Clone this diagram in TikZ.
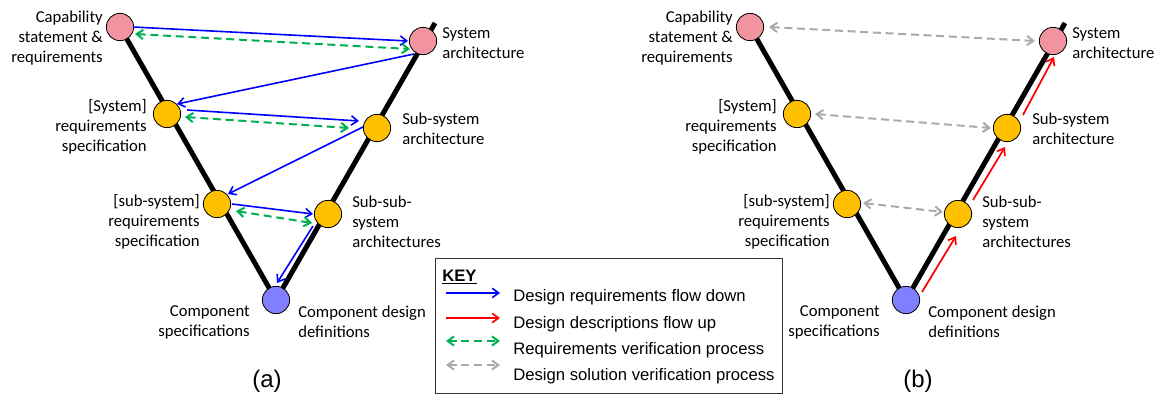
\documentclass[tikz,border=0pt]{standalone}
\usepackage{fontspec}
\setmainfont{Carlito}
\newfontfamily\arialfont{Liberation Sans}
\usetikzlibrary{arrows.meta,calc}

\definecolor{pinkfill}{RGB}{242,147,160}
\definecolor{goldfill}{RGB}{255,192,0}
\definecolor{violetfill}{RGB}{128,128,255}
\definecolor{flowblue}{RGB}{0,0,255}
\definecolor{flowred}{RGB}{255,0,0}
\definecolor{verifgreen}{RGB}{0,176,80}
\definecolor{verifgrey}{RGB}{170,170,170}

% The V of the life cycle: stages, the two legs and their labels
\newcommand\vdiagram{%
  \coordinate (capc)   at (120,27);
  \coordinate (sysc)   at (423,41);
  \coordinate (sreqc)  at (167,114);
  \coordinate (ssac)   at (377,128);
  \coordinate (ssreqc) at (217,204);
  \coordinate (sssc)   at (328,214);
  \coordinate (compc)  at (276,300);
  \coordinate (top)    at (435,23);
  \draw[vee] (capc) -- (compc);
  \draw[vee] (compc) -- (top);
  \node[capnode]  (cap)   at (capc)   {};
  \node[capnode]  (sys)   at (sysc)   {};
  \node[specnode] (sreq)  at (sreqc)  {};
  \node[specnode] (ssa)   at (ssac)   {};
  \node[specnode] (ssreq) at (ssreqc) {};
  \node[specnode] (sss)   at (sssc)   {};
  \node[compnode] (comp)  at (compc)  {};
  \node[lblL] (capl)   at (103,38)  {Capability\\statement \&\\requirements};
  \node[lblR] (sysl)   at (442,43)  {System\\architecture};
  \node[lblL] (sreql)  at (147,127) {[System]\\requirements\\specification};
  \node[lblR] (ssal)   at (402,129) {Sub-system\\architecture};
  \node[lblL] (ssreql) at (200,222) {[sub-system]\\requirements\\specification};
  \node[lblR] (sssl)   at (352,222) {Sub-sub-\\system\\architectures};
  \node[lblL] (compl)  at (250,322) {Component\\specifications};
  \node[lblR] (compr)  at (298,322) {Component design\\definitions};
}

\begin{document}
\begin{tikzpicture}[x=0.75pt,y=-0.75pt,
  stage/.style={circle,draw=black,line width=0.6pt,minimum size=20.5pt,inner sep=0pt},
  capnode/.style={stage,fill=pinkfill},
  specnode/.style={stage,fill=goldfill},
  compnode/.style={stage,fill=violetfill},
  vee/.style={line width=3.75pt,black},
  lbl/.style={font=\fontsize{12.5}{15}\selectfont,inner sep=0pt},
  lblL/.style={lbl,anchor=east,align=right},
  lblR/.style={lbl,anchor=west,align=left},
  barb/.tip={Straight Barb[length=4.8pt,width=7pt]},
  flowdown/.style={-barb,flowblue,line width=1.2pt},
  flowup/.style={-barb,flowred,line width=1.3pt},
  reqver/.style={barb-barb,verifgreen,line width=1.5pt,dash pattern=on 6pt off 3.5pt},
  solver/.style={barb-barb,verifgrey,line width=1.5pt,dash pattern=on 6pt off 3.5pt},
  keytext/.style={font=\arialfont\fontsize{12.5}{15}\selectfont,inner sep=0pt,anchor=base west},
  panel/.style={font=\arialfont\fontsize{18}{21}\selectfont,inner sep=0pt},
]
\useasboundingbox (0,0) rectangle (1158,396);
\fill[white] (0,0) rectangle (1158,396);

% (a) design requirements flow down and requirements verification
\begin{scope}[name prefix=a-]
  \vdiagram
  \draw[flowdown] ($(cap)+(13,0)$) -- ($(sys)+(-15,0)$);
  \draw[reqver]   ($(cap)+(15,7)$) -- ($(sys)+(-13,8)$);
  \draw[flowdown] ($(sys)+(-9,13)$) -- ($(sreq)+(10,-10)$);
  \draw[flowdown] ($(sreq)+(20,-4)$) -- ($(ssa)+(-18,-7)$);
  \draw[reqver]   ($(sreq)+(18,3)$) -- ($(ssa)+(-28,0)$);
  \draw[flowdown] ($(ssa)+(-14,-1)$) -- ($(ssreq)+(11,-10)$);
  \draw[flowdown] ($(ssreq)+(15,0)$) -- ($(sss)+(-15,0)$);
  \draw[reqver]   ($(ssreq)+(19,7)$) -- ($(sss)+(-16,9)$);
  \draw[flowdown] ($(sss)+(-15,12)$) -- ($(comp)+(1,-17)$);
  \node[panel] (label) at (267,381) {(a)};
\end{scope}

% (b) design descriptions flow up and design solution verification
\begin{scope}[shift={(630,0)},name prefix=b-]
  \vdiagram
  \draw[solver] ($(cap)+(19,0)$) -- ($(sys)+(-18,0)$);
  \draw[solver] ($(sreq)+(18,0)$) -- ($(ssa)+(-16,0)$);
  \draw[solver] ($(ssreq)+(16,-1)$) -- ($(sss)+(-15,-2)$);
  \draw[flowup] ($(comp)+(16,-8)$) -- ($(sss)+(-2,22)$);
  \draw[flowup] ($(sss)+(15,-14)$) -- ($(ssa)+(-2,19)$);
  \draw[flowup] ($(ssa)+(16,-13)$) -- ($(sys)+(1,16)$);
  \node[panel] (label) at (288,381) {(b)};
\end{scope}

% key
\node[draw=black!80,line width=0.75pt,anchor=north west,
      minimum width=260.25pt,minimum height=101.25pt,inner sep=0pt] (key) at (435,258) {};
\node[font=\arialfont\bfseries\fontsize{12.5}{15}\selectfont,inner sep=0pt,anchor=base west]
  (keytitle) at (442,281) {\underline{KEY}};
\coordinate (k1a) at (446,293); \coordinate (k1b) at (500,293);
\coordinate (k2a) at (446,318); \coordinate (k2b) at (500,318);
\coordinate (k3a) at (446,341); \coordinate (k3b) at (500,341);
\coordinate (k4a) at (446,365); \coordinate (k4b) at (500,365);
\draw[flowdown] (k1a) -- (k1b);
\draw[flowup]   (k2a) -- (k2b);
\draw[reqver]   (k3a) -- (k3b);
\draw[solver]   (k4a) -- (k4b);
\node[keytext] (k1) at (513,301) {Design requirements flow down};
\node[keytext] (k2) at (513,328) {Design descriptions flow up};
\node[keytext] (k3) at (513,354) {Requirements verification process};
\node[keytext] (k4) at (513,380) {Design solution verification process};
\end{tikzpicture}
\end{document}
